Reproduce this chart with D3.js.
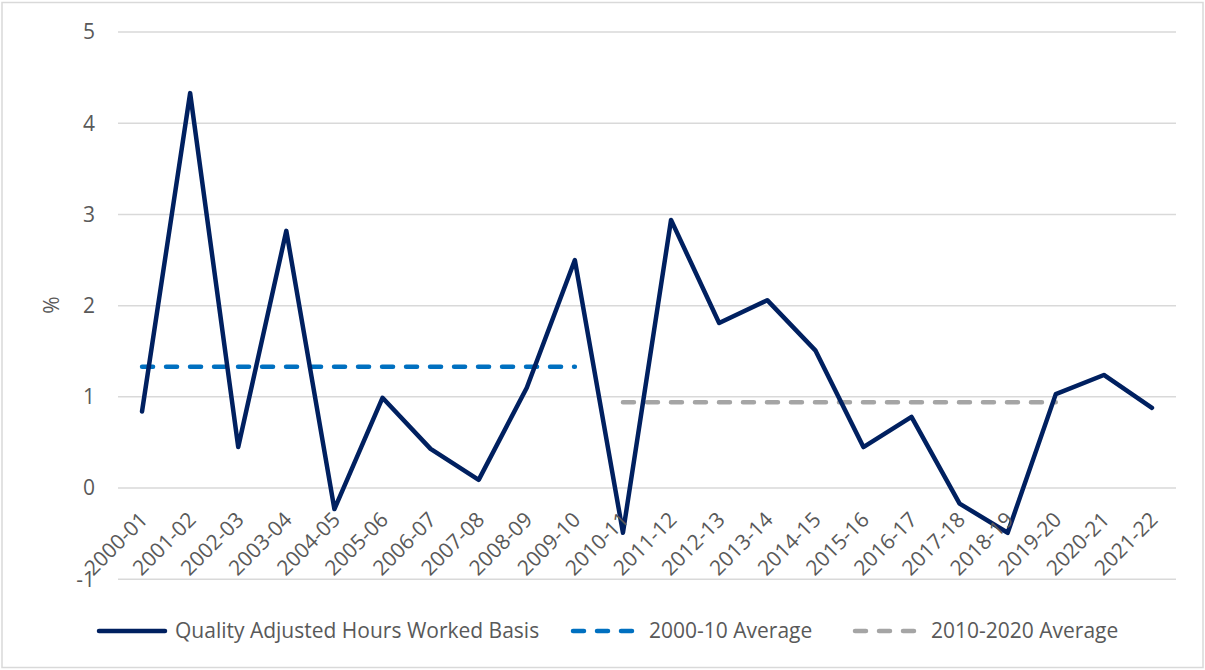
<!DOCTYPE html>
<html>
<head>
<meta charset="utf-8">
<script src="https://cdnjs.cloudflare.com/ajax/libs/d3/7.8.5/d3.min.js"></script>
<style>
  body { margin: 0; background: #fff; }
  text { font-family: "Open Sans", "Noto Sans", sans-serif; fill: #595959; }
</style>
</head>
<body>
<div id="chart"></div>
<script>
var years = ["2000-01","2001-02","2002-03","2003-04","2004-05","2005-06","2006-07","2007-08",
  "2008-09","2009-10","2010-11","2011-12","2012-13","2013-14","2014-15","2015-16","2016-17",
  "2017-18","2018-19","2019-20","2020-21","2021-22"];
var hours = [0.84,4.33,0.45,2.82,-0.23,0.99,0.43,0.09,1.10,2.50,-0.49,2.94,1.81,2.06,1.51,
  0.45,0.78,-0.17,-0.49,1.03,1.24,0.88];
var avg2000 = { from: "2000-01", to: "2009-10", value: 1.33 };
var avg2010 = { from: "2010-11", to: "2019-20", value: 0.94 };
var yTicks = [-1,0,1,2,3,4,5];
var legendItems = ["Quality Adjusted Hours Worked Basis","2000-10 Average","2010-2020 Average"];

var W = 1205, H = 670;
var svg = d3.select("#chart").append("svg").attr("width",W).attr("height",H);

svg.append("rect")
    .attr("x",2).attr("y",2.5).attr("width",W-4).attr("height",H-5)
    .attr("fill","#fff").attr("stroke","#d9d9d9").attr("stroke-width",1.5);

var x = d3.scalePoint().domain(years).range([118,1176]).padding(0.5);
var y = d3.scaleLinear().domain([-1,5]).range([579.3,32]);

// gridlines
svg.append("g").selectAll("line")
    .data(yTicks)
  .enter().append("line")
    .attr("x1",118).attr("x2",1176)
    .attr("y1",function(d){ return y(d); }).attr("y2",function(d){ return y(d); })
    .attr("stroke","#d9d9d9").attr("stroke-width",1.5);

// y labels
svg.append("g").selectAll("text")
    .data(yTicks)
  .enter().append("text")
    .attr("x",95).attr("y",function(d){ return y(d); })
    .attr("dy","0.35em")
    .attr("text-anchor","end")
    .style("font-size","21px")
    .text(function(d){ return d; });

svg.append("text")
    .attr("transform","translate(59,305) rotate(-90)")
    .attr("text-anchor","middle")
    .style("font-size","21px")
    .text("%");

var line = d3.line()
    .x(function(d,i){ return x(years[i]); })
    .y(function(d){ return y(d); });

function avgLine(a, color) {
  svg.append("line")
      .attr("x1",x(a.from)).attr("x2",x(a.to))
      .attr("y1",y(a.value)).attr("y2",y(a.value))
      .attr("stroke",color).attr("stroke-width",4.5)
      .attr("stroke-linecap","round")
      .attr("stroke-dasharray","11,13");
}
avgLine(avg2000,"#0070c0");
avgLine(avg2010,"#a5a5a5");

svg.append("path")
    .datum(hours)
    .attr("d",line)
    .attr("fill","none")
    .attr("stroke","#002060")
    .attr("stroke-width",4.5)
    .attr("stroke-linejoin","round")
    .attr("stroke-linecap","round");

// x labels (drawn on top, like excel)
svg.append("g").selectAll("text")
    .data(years)
  .enter().append("text")
    .attr("transform",function(d){ return "translate(" + (x(d)+7) + "," + (y(0)+33) + ") rotate(-45)"; })
    .attr("text-anchor","end")
    .style("font-size","21px")
    .text(function(d){ return d; });

// legend
var legX = [97,571,853];
var legColor = ["#002060","#0070c0","#a5a5a5"];
var leg = svg.append("g").selectAll("g")
    .data(legendItems)
  .enter().append("g")
    .attr("transform",function(d,i){ return "translate(" + legX[i] + ",631)"; });

leg.append("line")
    .attr("x1",2).attr("x2",68).attr("y1",0).attr("y2",0)
    .attr("stroke",function(d,i){ return legColor[i]; })
    .attr("stroke-width",4.5)
    .attr("stroke-linecap","round")
    .attr("stroke-dasharray",function(d,i){ return i == 0 ? null : "11,13"; });

leg.append("text")
    .attr("x",78).attr("dy","0.35em")
    .style("font-size","21px")
    .text(function(d){ return d; });
</script>
</body>
</html>
